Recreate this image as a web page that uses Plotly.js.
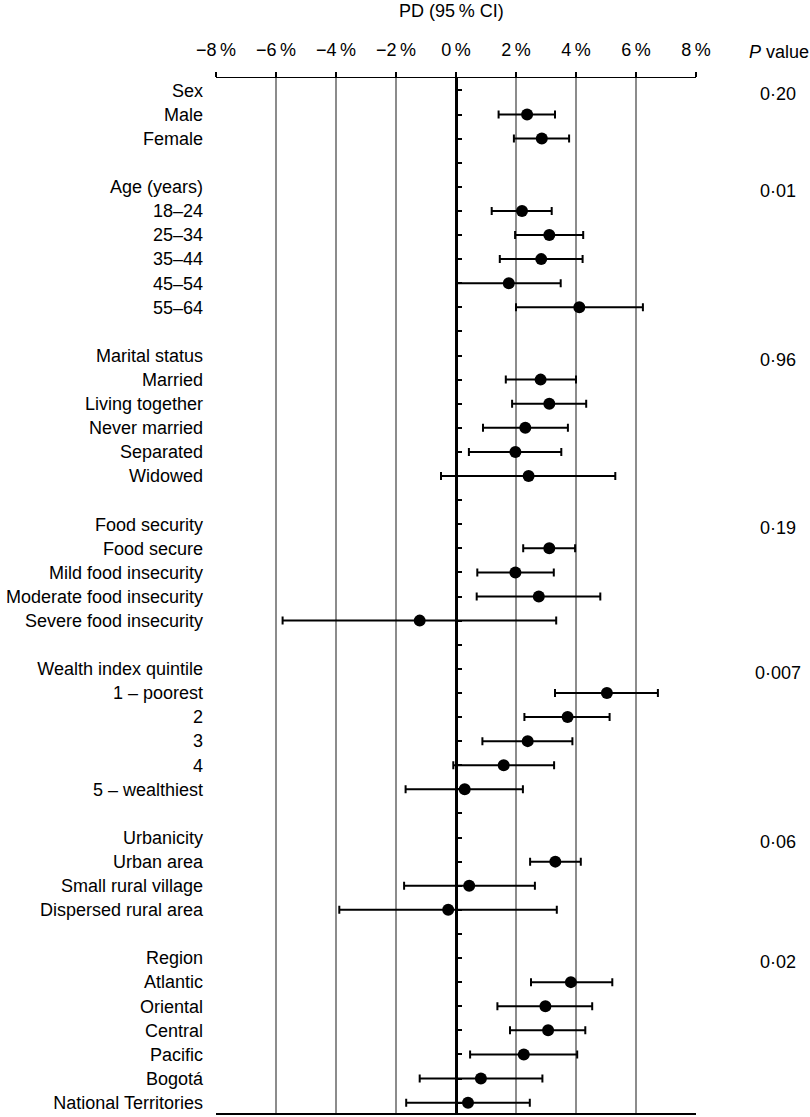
<!DOCTYPE html>
<html>
<head>
<meta charset="utf-8">
<script src="https://cdn.plot.ly/plotly-3.0.1.min.js"></script>
<style>html,body{margin:0;padding:0;background:#fff;}#chart{width:810px;height:1117px;}</style>
</head>
<body>
<div id="chart"></div>
<script>
const rows = ["Sex","Male","Female","","Age (years)","18–24","25–34","35–44","45–54","55–64","",
  "Marital status","Married","Living together","Never married","Separated","Widowed","",
  "Food security","Food secure","Mild food insecurity","Moderate food insecurity","Severe food insecurity","",
  "Wealth index quintile","1 – poorest","2","3","4","5 – wealthiest","",
  "Urbanicity","Urban area","Small rural village","Dispersed rural area","",
  "Region","Atlantic","Oriental","Central","Pacific","Bogotá","National Territories"];

const est = [null,2.37,2.86,null,null,2.20,3.11,2.84,1.76,4.11,null,
  null,2.82,3.11,2.31,1.98,2.42,null,
  null,3.11,1.98,2.76,-1.21,null,
  null,5.03,3.72,2.39,1.59,0.29,null,
  null,3.31,0.44,-0.26,null,
  null,3.83,2.98,3.07,2.26,0.83,0.40];
const lo = [null,1.42,1.93,null,null,1.19,1.97,1.46,0.02,2.00,null,
  null,1.66,1.87,0.90,0.43,-0.50,null,
  null,2.24,0.71,0.69,-5.78,null,
  null,3.30,2.28,0.88,-0.09,-1.68,null,
  null,2.47,-1.73,-3.89,null,
  null,2.50,1.38,1.80,0.47,-1.21,-1.66];
const hi = [null,3.30,3.77,null,null,3.19,4.24,4.22,3.49,6.23,null,
  null,4.00,4.34,3.73,3.51,5.31,null,
  null,3.97,3.26,4.81,3.34,null,
  null,6.73,5.12,3.88,3.27,2.23,null,
  null,4.16,2.63,3.36,null,
  null,5.21,4.54,4.31,4.04,2.88,2.46];

const pHeaders = ["Sex","Age (years)","Marital status","Food security","Wealth index quintile","Urbanicity","Region"];
const pValues = ["0·20","0·01","0·96","0·19","0·007","0·06","0·02"];

const xTickVals = [-8,-6,-4,-2,0,2,4,6,8];
const xTickText = ["−8\u2009%","−6\u2009%","−4\u2009%","−2\u2009%","0\u2009%","2\u2009%","4\u2009%","6\u2009%","8\u2009%"];

const FONT = "Liberation Sans, Arial, sans-serif";
const rowIdx = rows.map((_, i) => i);
const idx = rowIdx.filter(i => est[i] !== null);

const pointTrace = {
  type: "scatter", mode: "markers",
  x: idx.map(i => est[i]), y: idx,
  marker: {color: "#000", size: 12},
  error_x: {type: "data", symmetric: false,
    array: idx.map(i => hi[i] - est[i]),
    arrayminus: idx.map(i => est[i] - lo[i]),
    color: "#000", thickness: 2, width: 4},
  hoverinfo: "skip", showlegend: false, cliponaxis: false
};
const zeroAxisTrace = {
  type: "scatter", mode: "markers", x: [0], y: [0], yaxis: "y2",
  marker: {opacity: 0}, hoverinfo: "skip", showlegend: false
};

const yr = [42.43, -0.515];
const annotations = [
  {text: "PD (95\u2009% CI)", xref: "x", x: -0.15, yref: "paper", y: 1 + (78 - 11) / 1035,
   xanchor: "center", yanchor: "middle", showarrow: false, font: {family: FONT, size: 18, color: "#000"}},
  {text: "<i>P</i> value", xref: "paper", x: (779 - 216) / 480, yref: "paper", y: 1 + (78 - 52) / 1035,
   xanchor: "center", yanchor: "middle", showarrow: false, font: {family: FONT, size: 18, color: "#000"}}
];
pHeaders.forEach((h, k) => {
  annotations.push({text: pValues[k], xref: "paper", x: (778 - 216) / 480, yref: "y", y: rows.indexOf(h),
    xanchor: "center", yanchor: "middle", yshift: -4, showarrow: false,
    font: {family: FONT, size: 18, color: "#000"}});
});

const layout = {
  width: 810, height: 1117,
  margin: {l: 216, r: 114, t: 78, b: 4, pad: 0},
  paper_bgcolor: "#fff", plot_bgcolor: "#fff",
  font: {family: FONT, size: 18, color: "#000"},
  showlegend: false,
  xaxis: {
    range: [-8, 8], side: "top", tickmode: "array", tickvals: xTickVals, ticktext: xTickText,
    ticks: "outside", ticklen: 5, tickwidth: 1.5, tickcolor: "#000",
    showline: true, linecolor: "#000", linewidth: 1.5, mirror: true,
    showgrid: true, gridcolor: "#8c8c8c", gridwidth: 1.3, zeroline: false,
    tickfont: {family: FONT, size: 18, color: "#000"}, ticklabelstandoff: 8, fixedrange: true
  },
  yaxis: {
    range: yr, tickmode: "array", tickvals: rowIdx, ticktext: rows, ticks: "",
    showline: false, showgrid: false, zeroline: false,
    tickfont: {family: FONT, size: 18, color: "#000"}, ticklabelstandoff: 12, fixedrange: true
  },
  yaxis2: {
    range: yr, overlaying: "y", anchor: "free", position: 0.5, side: "right",
    tickmode: "array", tickvals: rowIdx, ticks: "outside", ticklen: 4, tickwidth: 2, tickcolor: "#000",
    showticklabels: false, showline: true, linecolor: "#000", linewidth: 3,
    showgrid: false, zeroline: false, fixedrange: true
  },
  annotations: annotations
};

Plotly.newPlot("chart", [pointTrace, zeroAxisTrace], layout, {staticPlot: true, displayModeBar: false});
</script>
</body>
</html>
